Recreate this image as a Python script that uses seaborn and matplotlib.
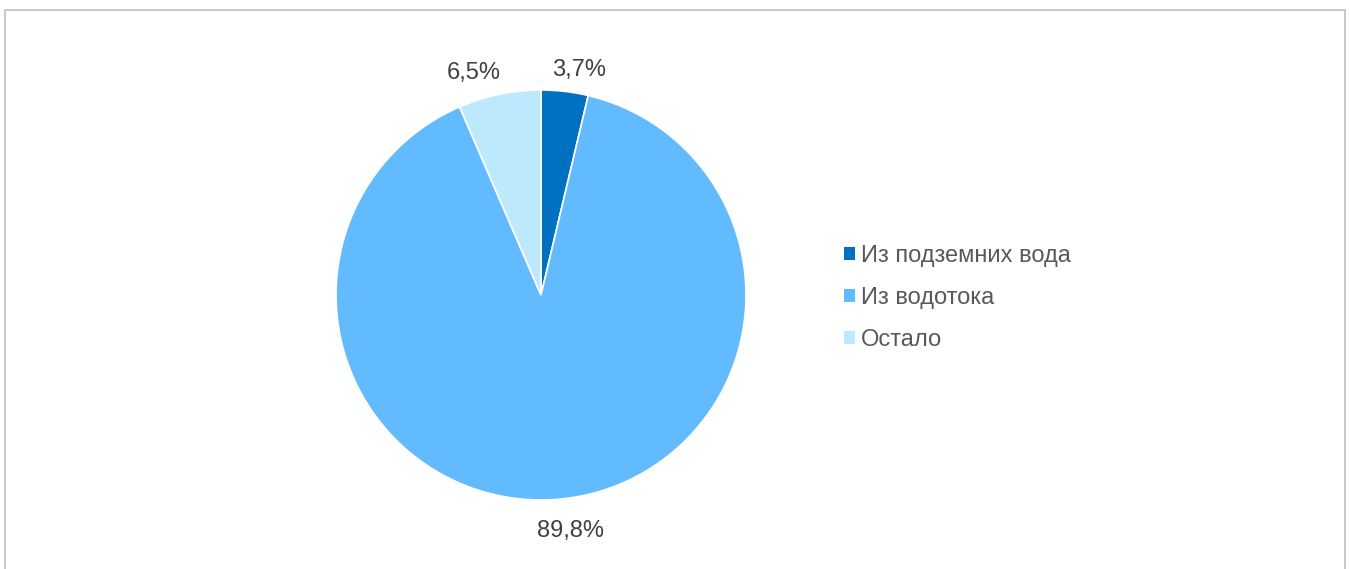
import numpy as np
import seaborn as sns
import matplotlib.pyplot as plt
from matplotlib.patches import Rectangle, Patch

sns.set_style("white")
plt.rcParams['font.family'] = ['Liberation Sans', 'DejaVu Sans']

categories = ["Из подземних вода", "Из водотока", "Остало"]
values = [3.7, 89.8, 6.5]
colors = ["#0070C0", "#63BBFF", "#BDE9FF"]
TEXT = "#404040"
LEGEND_TEXT = "#595959"

W, H = 1350, 569
fig = plt.figure(figsize=(W / 100, H / 100), dpi=100)

# chart frame
fig.patches.append(Rectangle((5 / W, -0.1), 1340 / W, 1.1 - 10 / H,
                             transform=fig.transFigure, fill=False,
                             edgecolor="#BFBFBF", lw=1.2))

ax = fig.add_axes([336 / W, 69 / H, 410 / W, 410 / H])
wedges, texts, autotexts = ax.pie(
    values, colors=colors, startangle=90, counterclock=False,
    autopct=lambda p: f"{p:.1f}%".replace(".", ","), pctdistance=1.13,
    wedgeprops=dict(edgecolor="white", linewidth=1.2),
    textprops=dict(color=TEXT, fontsize=17),
)
# outside-end labels, pushed sideways like Excel does
for w, t in zip(wedges, autotexts):
    ang = np.deg2rad((w.theta1 + w.theta2) / 2)
    t.set_position((1.62 * np.cos(ang), 1.13 * np.sin(ang) - 0.025))
ax.set_xlim(-1, 1)
ax.set_ylim(-1, 1)
ax.set_aspect("equal")

handles = [Patch(facecolor=c, edgecolor="none") for c in colors]
fig.legend(handles, categories, loc="center left", bbox_to_anchor=(823 / W, 1 - 298 / H),
           frameon=False, fontsize=17, labelcolor=LEGEND_TEXT, handlelength=0.45,
           handleheight=0.45, handletextpad=0.25, labelspacing=0.85)

fig.savefig("out.png", dpi=100)
